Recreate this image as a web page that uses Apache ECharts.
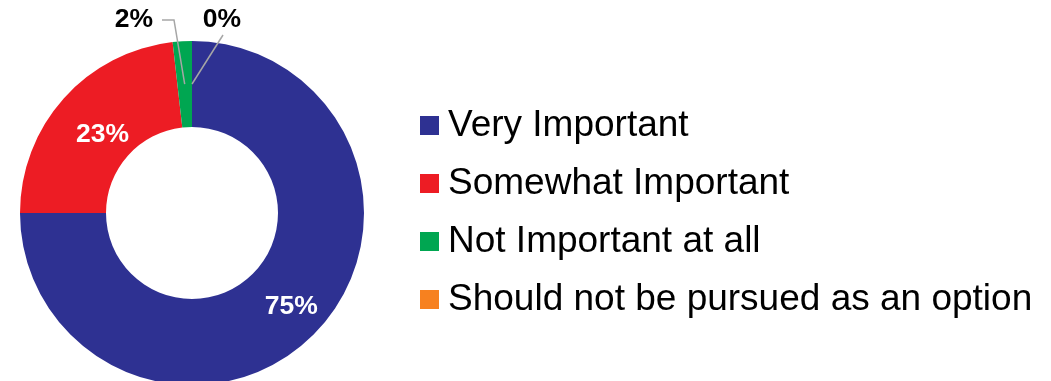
<!DOCTYPE html>
<html>
<head>
<meta charset="utf-8">
<script src="https://cdn.jsdelivr.net/npm/echarts@6/dist/echarts.min.js"></script>
<style>
  html, body { margin: 0; padding: 0; background: #ffffff; }
  #chart { width: 1051px; height: 381px; }
</style>
</head>
<body>
<div id="chart"></div>
<script>
// Survey responses, in percent
const categories = ['Very Important', 'Somewhat Important', 'Not Important at all', 'Should not be pursued as an option'];
const shares = [75, 23.2, 1.8, 0];
const colors = ['#2E3192', '#ED1C24', '#00A651', '#F7811F'];

const FONT = '"Liberation Sans", Arial, Helvetica, sans-serif';
const CENTER = [192, 213];
const RADII = [86, 172];
const SMALL = 2; // slices from this index on are labelled outside the ring

// Mid-angle (radians, screen coords) of a slice, walking clockwise from 12 o'clock
function midAngle(i) {
  const total = shares.reduce((a, b) => a + b, 0);
  let before = 0;
  for (let k = 0; k < i; k++) before += shares[k];
  const frac = (before + shares[i] / 2) / total;
  return -Math.PI / 2 + frac * 2 * Math.PI;
}
function pointOnRing(i, r) {
  const a = midAngle(i);
  return [CENTER[0] + r * Math.cos(a), CENTER[1] + r * Math.sin(a)];
}

// Callout placement for the thin slices, leader lines end mid-ring
const calloutSpots = {
  2: { x: 134, y: 20, line: (p) => [[162, 20], [174, 20], p] },
  3: { x: 222, y: 20, line: (p) => [[223, 35], p] }
};
// Nudges for the in-ring labels
const insideNudge = { 0: [6, 0], 1: [9, 10] };

const labelFont = { fontFamily: FONT, fontSize: 26.5, fontWeight: 'bold' };
const pct = (p) => Math.round(p.value) + '%';

// Coloured ring with the in-ring labels
const ringData = categories.map((name, i) => ({
  name,
  value: shares[i],
  itemStyle: { color: colors[i] },
  label: { show: i < SMALL }
}));

// Transparent copy on top, carrying the callouts so their leader lines sit over the ring
const calloutData = categories.map((name, i) => ({
  name,
  value: shares[i],
  itemStyle: { color: 'rgba(0,0,0,0)' },
  label: { show: i >= SMALL },
  labelLine: { show: i >= SMALL }
}));

const chart = echarts.init(document.getElementById('chart'), null, { renderer: 'canvas' });
chart.setOption({
  animation: false,
  backgroundColor: '#ffffff',
  legend: {
    orient: 'vertical',
    left: 415,
    top: 102,
    height: 320,
    icon: 'rect',
    itemWidth: 19,
    itemHeight: 19,
    itemGap: 21,
    selectedMode: false,
    data: categories,
    textStyle: {
      fontFamily: FONT,
      fontSize: 37,
      color: '#000000',
      padding: [0, 0, 0, 4]
    }
  },
  series: [{
    type: 'pie',
    z: 2,
    center: CENTER,
    radius: RADII,
    startAngle: 90,
    clockwise: true,
    avoidLabelOverlap: false,
    minShowLabelAngle: 0,
    data: ringData,
    label: Object.assign({ position: 'inside', color: '#ffffff', formatter: pct }, labelFont),
    labelLine: { show: false },
    labelLayout: (params) => {
      const n = insideNudge[params.dataIndex];
      return n ? { dx: n[0], dy: n[1] } : {};
    }
  }, {
    type: 'pie',
    z: 3,
    silent: true,
    legendHoverLink: false,
    center: CENTER,
    radius: RADII,
    startAngle: 90,
    clockwise: true,
    avoidLabelOverlap: false,
    minShowLabelAngle: 0,
    data: calloutData,
    label: Object.assign({ position: 'outside', color: '#000000', formatter: pct }, labelFont),
    labelLine: { lineStyle: { color: '#A6A6A6', width: 1.5 } },
    labelLayout: (params) => {
      const spot = calloutSpots[params.dataIndex];
      if (!spot) return {};
      const end = pointOnRing(params.dataIndex, (RADII[0] + RADII[1]) / 2);
      return {
        x: spot.x,
        y: spot.y,
        align: 'center',
        verticalAlign: 'middle',
        labelLinePoints: spot.line(end)
      };
    }
  }]
});
</script>
</body>
</html>
